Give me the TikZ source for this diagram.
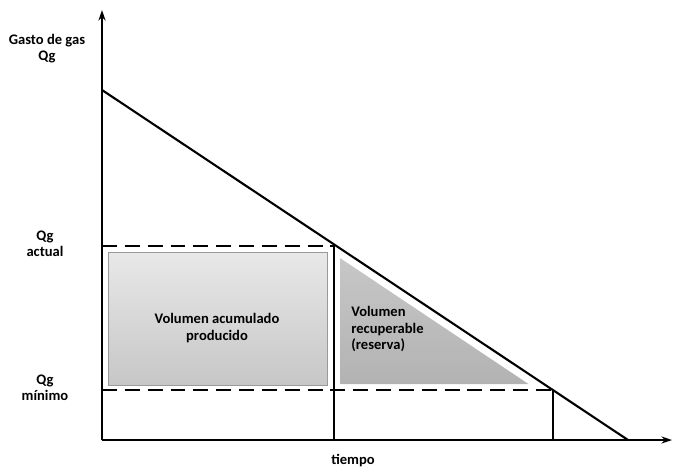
\documentclass[tikz,border=0pt]{standalone}
\usepackage{fontspec}
\setmainfont{Carlito}
\usetikzlibrary{arrows.meta}
\tikzset{
	lbl/.style={font=\bfseries\fontsize{8.3}{9.2}\selectfont, align=center, inner sep=0pt},
	qline/.style={line width=1.6pt, dash pattern=on 8.5pt off 4.5pt},
}

\begin{document}
\begin{tikzpicture}[x=0.02cm, y=-0.02cm]
			%%%%% START %%%%%
			\useasboundingbox (0, 0) rectangle (673, 467);
			
			% volumes
			\shade[top color=black!9, bottom color=black!22, draw=black!40, line width=0.4pt] (108, 252) rectangle (327, 385);
			\shade[top color=black!22, bottom color=black!30] (340, 257) -- (340, 384) -- (530, 384) -- cycle;
			\draw[white, line width=0.8pt] (340, 257) -- (530, 384);
			
			% axes
			\draw[line width=1.2pt, -{Stealth[length=6pt, width=4pt]}] (102, 440) -- (102, 10);
			\draw[line width=1.2pt, -{Stealth[length=6pt, width=4pt]}] (102, 440) -- (672, 440);
			
			% decline
			\draw[line width=1.2pt] (102, 90) -- (628, 440);
			
			\draw[qline] (102, 246) -- (334, 246);
			\draw[qline] (102, 390) -- (553, 390);
			\draw[line width=1.2pt] (334, 246) -- (334, 440);
			\draw[line width=1.2pt] (553, 390) -- (553, 440);
			
			% texts
			\node[lbl] (qgas) at (47, 49) {Gasto de gas\\Qg};
			\node[lbl] (qact) at (45, 244) {Qg\\actual};
			\node[lbl] (qmin) at (45, 388) {Qg\\mínimo};
			\node[lbl] (tiempo) at (353, 461) {tiempo};
			\node[lbl] (vprod) at (217, 328) {Volumen acumulado\\producido};
			\node[lbl, align=left, anchor=west] (vrec) at (351, 329) {Volumen\\recuperable\\(reserva)};
			
			%%%%% END %%%%%
\end{tikzpicture}
\end{document}
